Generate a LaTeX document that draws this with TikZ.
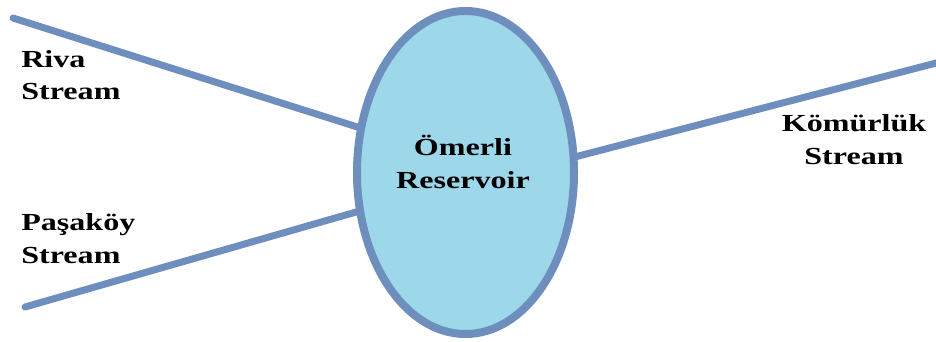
\documentclass[tikz,border=0pt]{standalone}
\usepackage{fontspec}
\setmainfont{Liberation Serif}
\usetikzlibrary{shapes.geometric}
\definecolor{edgeblue}{RGB}{110,143,190}
\definecolor{lakefill}{RGB}{157,216,234}
\tikzset{
  stream/.style={draw=edgeblue, line width=7pt},
  lbl/.style={font=\bfseries\fontsize{24.5}{32.5}\selectfont, xscale=1.31, inner sep=0pt, text=black},
}
\begin{document}
\begin{tikzpicture}[x=1pt,y=-1pt]
\useasboundingbox (0,0) rectangle (936,341);
\node[ellipse, draw=edgeblue, fill=lakefill, line width=8pt, minimum width=217pt, minimum height=323pt, inner sep=0pt, outer sep=0pt] (res) at (465.5,172.5) {};
\node[lbl, align=center] (omt) at (463,162) {Ömerli\\Reservoir};
\coordinate (rivaS) at (13,18);
\coordinate (pasaS) at (25,307);
\coordinate (komS) at (940,62);
\draw[stream, line cap=round] (rivaS) -- (res.157.6);
\draw[stream, line cap=round] (pasaS) -- (res.200.7);
\draw[stream] (komS) -- (res.8.7);
\node[lbl, align=left, anchor=base west] (riva) at (21,99.5) {Riva\\Stream};
\node[lbl, align=left, anchor=base west] (pasa) at (21,263) {Paşaköy\\Stream};
\node[lbl, align=center, anchor=base] (kom) at (854,164) {Kömürlük\\Stream};
\end{tikzpicture}
\end{document}
